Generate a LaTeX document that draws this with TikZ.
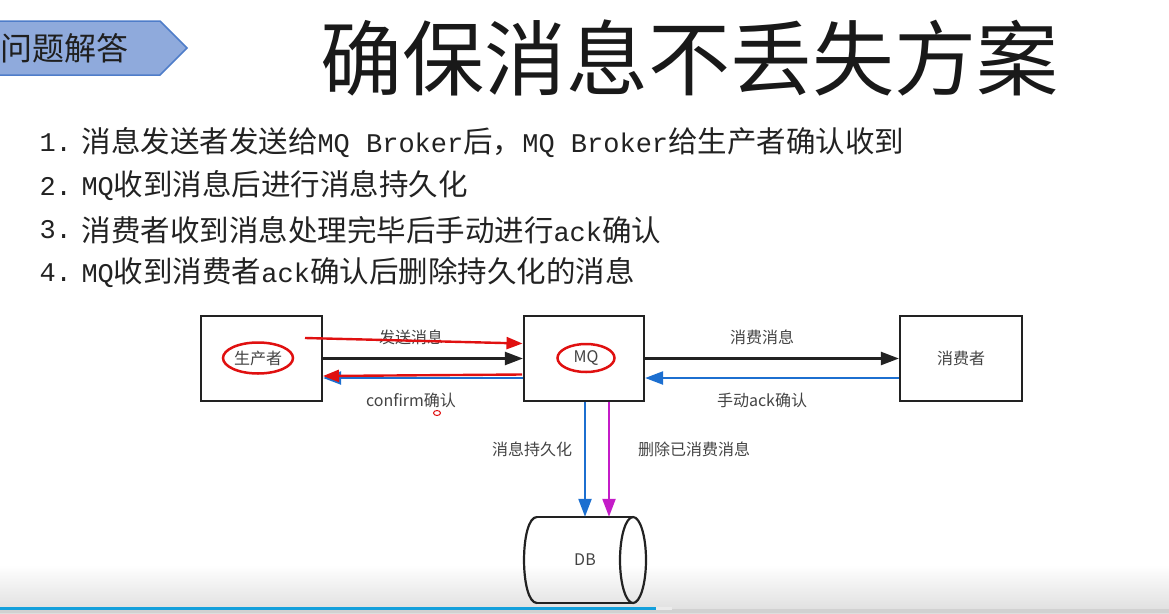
\documentclass[tikz,border=0pt]{standalone}
\usepackage{fontspec}
\setmainfont{Noto Sans CJK SC}
\newfontfamily\monofont{Liberation Mono}
\usetikzlibrary{arrows.meta,shapes.geometric}

\definecolor{tagfill}{HTML}{8FAADC}
\definecolor{tagline}{HTML}{4F7DC9}
\definecolor{ink}{HTML}{222222}
\definecolor{arrblue}{HTML}{1C6FD0}
\definecolor{arrred}{HTML}{E01010}
\definecolor{arrmag}{HTML}{C41CC8}
\definecolor{barblue}{HTML}{14A0DC}

\begin{document}
\begin{tikzpicture}[x=1pt,y=-1pt,
  box/.style={draw=ink,line width=2.2pt,fill=white,minimum width=121pt,minimum height=85pt,inner sep=0pt},
  redring/.style={draw=arrred,line width=2.5pt,ellipse,inner sep=0pt},
  conn/.style={line width=2.3pt,-{Triangle[length=18pt,width=13pt]}},
  pen/.style={draw=arrred,line width=2.4pt,-{Triangle[length=16pt,width=12pt]}},
  lbl/.style={font=\fontsize{16}{19}\selectfont,text=ink!85},
  listnum/.style={anchor=west,font=\fontsize{27}{34}\selectfont\monofont,text=ink},
  listtxt/.style={anchor=west,font=\fontsize{29.5}{34}\selectfont,text=ink},
]
\newcommand\lat[1]{{\fontsize{27}{34}\selectfont\monofont #1}}
\useasboundingbox (0,0) rectangle (1169,613);

% video footer: soft grey fade and progress bar
\shade[top color=white,bottom color=black!13] (0,565) rectangle (1169,613);
\fill[black!18] (0,609) rectangle (1169,613);
\fill[black!8] (656,607) rectangle (672,609.5);
\fill[barblue] (0,607) rectangle (656,609.5);

% section tag
\draw[tagline,fill=tagfill,line width=1.5pt] (-5,21) -- (160,21) -- (187,48) -- (160,75) -- (-5,75) -- cycle;
\node[anchor=west,inner sep=0pt,font=\fontsize{32}{36}\selectfont,text=black!88] (tag) at (0,48) {问题解答};

% title
\node[font=\fontsize{82}{90}\selectfont,text=black!90] (title) at (689,58) {确保消息不丢失方案};

% numbered list
\node[listnum] (n1) at (36,143) {1.};
\node[listtxt] (t1) at (78,143) {消息发送者发送给\lat{MQ Broker}后，\lat{MQ Broker}给生产者确认收到};
\node[listnum] (n2) at (36,186) {2.};
\node[listtxt] (t2) at (78,186) {\lat{MQ}收到消息后进行消息持久化};
\node[listnum] (n3) at (36,230) {3.};
\node[listtxt] (t3) at (78,230) {消费者收到消息处理完毕后手动进行\lat{ack}确认};
\node[listnum] (n4) at (36,273) {4.};
\node[listtxt] (t4) at (78,273) {\lat{MQ}收到消费者\lat{ack}确认后删除持久化的消息};

% participants
\node[box] (prod) at (261.5,358.5) {};
\node[box,minimum width=120pt] (mq) at (584,358.5) {};
\node[box,minimum width=122pt] (cons) at (961,358.5) {};
\node[lbl] (prodtxt) at (258,358) {生产者};
\node[lbl] (mqtxt) at (586,358) {MQ};
\node[lbl] (constxt) at (961,358) {消费者};

% database
\node[lbl,minimum width=122pt,minimum height=86pt,inner sep=0pt] (db) at (585,560) {DB};
\draw[ink,line width=2.2pt] (537,517) -- (633,517);
\draw[ink,line width=2.2pt] (537,603) -- (633,603);
\draw[ink,line width=2.2pt] (537,517) .. controls (519.7,517) and (519.7,603) .. (537,603);
\draw[ink,line width=2.2pt] (633,560) ellipse [x radius=13,y radius=43];

% edge labels
\node[lbl] (l1) at (411,337) {发送消息};
\node[lbl] (l2) at (411,400) {confirm确认};
\node[lbl] (l3) at (762,337) {消费消息};
\node[lbl] (l4) at (762,400) {手动ack确认};
\node[lbl] (l5) at (532,449) {消息持久化};
\node[lbl] (l6) at (694,449) {删除已消费消息};

% message flow
\draw[conn,ink] (prod.east) -- (mq.west);
\draw[conn,arrblue] ([yshift=-19.5pt]mq.west) -- ([yshift=-19.5pt]prod.east);
\draw[conn,ink] (mq.east) -- (cons.west);
\draw[conn,arrblue] ([yshift=-19.5pt]cons.west) -- ([yshift=-19.5pt]mq.east);
\draw[conn,arrblue] ([xshift=1pt]mq.south) -- ([xshift=1pt]mq.south |- db.north);
\draw[conn,arrmag] ([xshift=25pt]mq.south) -- ([xshift=25pt]mq.south |- db.north);

% hand-drawn red marks
\node[redring,minimum width=70pt,minimum height=31pt] (ring1) at (258,358) {};
\node[redring,minimum width=57pt,minimum height=28pt] (ring2) at (586,358) {};
\coordinate (penA) at (305,338);
\coordinate (penB) at (522.5,343.5);
\coordinate (penC) at (522,374.5);
\coordinate (penD) at (323,376);
\draw[pen] (penA) -- (penB);
\draw[pen] (penC) -- (penD);
\node[draw=arrred,line width=1pt,ellipse,minimum width=7pt,minimum height=5pt,inner sep=0pt] (dot) at (437,413) {};
\end{tikzpicture}
\end{document}
